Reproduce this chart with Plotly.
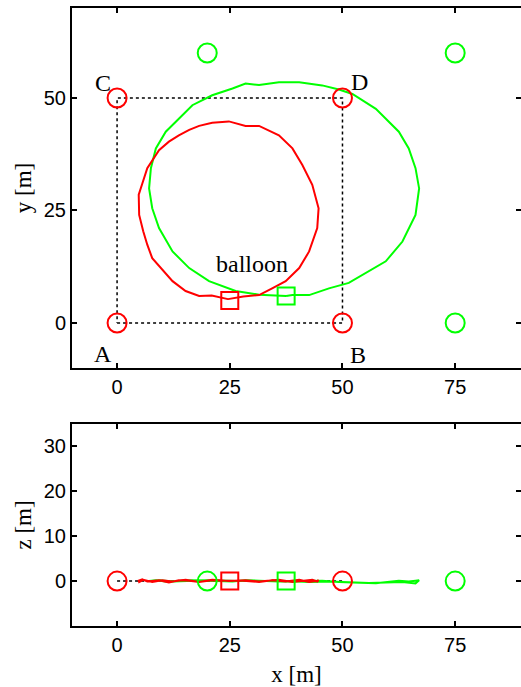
import plotly.graph_objects as go

# ---------------- data ----------------
anchor_names = ["A", "B", "C", "D"]
anchor_x = [0, 50, 0, 50]
anchor_y = [0, 0, 50, 50]
anchor_z = [0, 0, 0, 0]

node_x = [20, 75, 75]
node_y = [60, 60, 0]
node_z = [0, 0, 0]

balloon_red = (25, 5, 0)
balloon_green = (37.5, 6, 0)

square_x = [0, 50, 50, 0, 0]
square_y = [0, 0, 50, 50, 0]
line_z_x = [0, 50]
line_z_z = [0, 0]

red_x = [24.6, 21.0, 18.2, 15.2, 12.3, 10.0, 7.8, 6.7, 5.8, 4.9, 4.8, 5.6, 6.7, 9.3, 11.5, 13.7,
         16.0, 18.2, 21.1, 24.8, 28.5, 31.5, 35.9, 38.9, 41.1, 43.3, 44.4, 44.7, 44.4, 42.6,
         40.4, 37.4, 34.4, 31.5, 28.0, 24.6]
red_y = [5.3, 6.1, 6.0, 7.1, 9.3, 11.9, 14.4, 17.4, 20.4, 24.0, 28.5, 31.0, 34.4, 38.4, 40.3, 41.7,
         42.9, 43.8, 44.5, 44.8, 43.8, 43.8, 41.7, 38.8, 35.1, 30.7, 27.0, 25.5, 21.1, 15.9,
         12.2, 9.3, 7.7, 6.2, 5.9, 5.3]
red_z = [0.1, 0.2, -0.2, 0.3, -0.1, 0.2, -0.2, 0.1, 0.3, -0.2, 0.1, 0.4, -0.1, 0.2, -0.3, 0.2,
         0.1, -0.2, 0.3, 0.0, 0.2, -0.1, 0.3, -0.2, 0.1, 0.3, -0.1, 0.2, 0.1, -0.2,
         0.3, -0.1, 0.2, -0.2, 0.1, 0.1]

green_x = [37.5, 38.9, 42.6, 47.0, 51.4, 55.9, 59.6, 63.3, 66.2, 67.0, 66.2, 64.7, 62.5, 57.4,
           52.2, 49.2, 45.5, 40.4, 35.9, 31.5, 28.5, 25.6, 21.1, 16.7, 13.7, 10.8, 8.6, 7.5,
           7.1, 7.8, 9.3, 12.3, 16.0, 20.4, 26.3, 31.5, 37.5]
green_y = [6.0, 6.2, 6.2, 7.7, 8.9, 11.5, 13.7, 18.1, 24.0, 29.9, 34.4, 38.8, 42.5, 47.6,
           50.9, 51.9, 52.8, 53.5, 53.5, 52.9, 53.2, 52.1, 50.6, 48.4, 45.4, 42.5, 38.8, 34.4,
           29.9, 25.5, 21.1, 15.9, 12.2, 9.3, 7.1, 6.3, 6.0]
green_z = [0.0, -0.1, -0.2, -0.1, -0.3, -0.4, -0.3, -0.2, -0.5, 0.2, 0.1, -0.1, 0.1, -0.5,
           -0.3, -0.2, 0.1, 0.0, -0.1, 0.1, 0.2, -0.1, 0.1, 0.2, 0.0, -0.1, 0.2, 0.1,
           0.0, 0.1, 0.2, -0.1, 0.1, 0.2, 0.0, 0.1, 0.0]

x_ticks = [0, 25, 50, 75]
y_ticks = [0, 25, 50]
z_ticks = [0, 10, 20, 30]

# ---------------- styles ----------------
RED = "#ff0000"
GREEN = "#00ff00"
TICKFONT = dict(family="Liberation Sans, Arial, sans-serif", size=20, color="black")
SERIF = "Liberation Serif, Times New Roman, serif"

fig = go.Figure()

# ---- top plot (x-y) ----
fig.add_trace(go.Scatter(x=square_x, y=square_y, mode="lines",
                         line=dict(color="black", width=1.5, dash="dot"),
                         xaxis="x", yaxis="y"))
fig.add_trace(go.Scatter(x=green_x, y=green_y, mode="lines",
                         line=dict(color=GREEN, width=2), xaxis="x", yaxis="y"))
fig.add_trace(go.Scatter(x=red_x, y=red_y, mode="lines",
                         line=dict(color=RED, width=2), xaxis="x", yaxis="y"))
fig.add_trace(go.Scatter(x=anchor_x, y=anchor_y, mode="markers",
                         marker=dict(symbol="circle-open", size=19, color=RED, line=dict(width=2)),
                         xaxis="x", yaxis="y"))
fig.add_trace(go.Scatter(x=node_x, y=node_y, mode="markers",
                         marker=dict(symbol="circle-open", size=19, color=GREEN, line=dict(width=2)),
                         xaxis="x", yaxis="y"))
fig.add_trace(go.Scatter(x=[balloon_red[0]], y=[balloon_red[1]], mode="markers",
                         marker=dict(symbol="square-open", size=17, color=RED, line=dict(width=2)),
                         xaxis="x", yaxis="y"))
fig.add_trace(go.Scatter(x=[balloon_green[0]], y=[balloon_green[1]], mode="markers",
                         marker=dict(symbol="square-open", size=17, color=GREEN, line=dict(width=2)),
                         xaxis="x", yaxis="y"))

# ---- bottom plot (x-z) ----
fig.add_trace(go.Scatter(x=line_z_x, y=line_z_z, mode="lines",
                         line=dict(color="black", width=1.5, dash="dot"),
                         xaxis="x2", yaxis="y2"))
fig.add_trace(go.Scatter(x=green_x, y=green_z, mode="lines",
                         line=dict(color=GREEN, width=2), xaxis="x2", yaxis="y2"))
fig.add_trace(go.Scatter(x=red_x, y=red_z, mode="lines",
                         line=dict(color=RED, width=2), xaxis="x2", yaxis="y2"))
fig.add_trace(go.Scatter(x=[anchor_x[0], anchor_x[1]], y=[anchor_z[0], anchor_z[1]], mode="markers",
                         marker=dict(symbol="circle-open", size=19, color=RED, line=dict(width=2)),
                         xaxis="x2", yaxis="y2"))
fig.add_trace(go.Scatter(x=[node_x[0], node_x[1]], y=[node_z[0], node_z[1]], mode="markers",
                         marker=dict(symbol="circle-open", size=19, color=GREEN, line=dict(width=2)),
                         xaxis="x2", yaxis="y2"))
fig.add_trace(go.Scatter(x=[balloon_red[0]], y=[balloon_red[2]], mode="markers",
                         marker=dict(symbol="square-open", size=17, color=RED, line=dict(width=2)),
                         xaxis="x2", yaxis="y2"))
fig.add_trace(go.Scatter(x=[balloon_green[0]], y=[balloon_green[2]], mode="markers",
                         marker=dict(symbol="square-open", size=17, color=GREEN, line=dict(width=2)),
                         xaxis="x2", yaxis="y2"))

# ---- labels ----
label_pos = {"A": (-3.2, -6.8), "B": (53.5, -7.2), "C": (-3.2, 53.3), "D": (53.8, 53.5)}
for name in anchor_names:
    px, py = label_pos[name]
    fig.add_annotation(x=px, y=py, xref="x", yref="y", text=name, showarrow=False,
                       font=dict(family=SERIF, size=24, color="black"))
fig.add_annotation(x=30, y=13, xref="x", yref="y", text="balloon", showarrow=False,
                   font=dict(family=SERIF, size=24, color="black"))

axis_common = dict(showline=True, linecolor="black", linewidth=2, mirror="ticks",
                   ticks="inside", ticklen=5, tickwidth=1.5, tickcolor="black",
                   showgrid=False, zeroline=False, tickfont=TICKFONT, automargin=False)

fig.update_layout(
    width=521, height=687,
    margin=dict(l=72, r=0, t=8, b=61),
    paper_bgcolor="white", plot_bgcolor="white",
    showlegend=False,
    xaxis=dict(axis_common, range=[-10, 89.6], tickvals=x_ticks, anchor="y", domain=[0, 1]),
    yaxis=dict(axis_common, range=[-10, 70], tickvals=y_ticks, anchor="x", domain=[0.4175, 1],
               title=dict(text="y [m]", font=dict(family=SERIF, size=23, color="black"), standoff=6)),
    xaxis2=dict(axis_common, range=[-10, 89.6], tickvals=x_ticks, anchor="y2", domain=[0, 1],
                title=dict(text="x [m]", font=dict(family=SERIF, size=23, color="black"), standoff=11)),
    yaxis2=dict(axis_common, range=[-10, 35], tickvals=z_ticks, anchor="x2", domain=[0, 0.3269],
                title=dict(text="z [m]", font=dict(family=SERIF, size=23, color="black"), standoff=6)),
)

fig.write_html("out.html", config={"displayModeBar": False},
               post_script="document.body.style.margin='0';document.body.style.overflow='hidden';")
